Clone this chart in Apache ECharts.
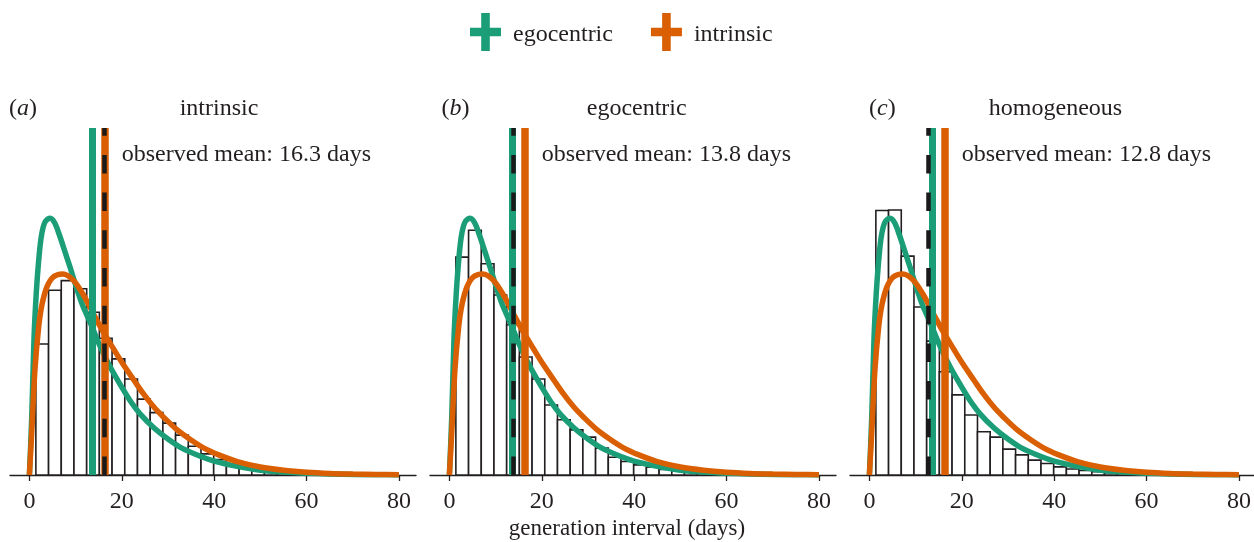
<!DOCTYPE html>
<html>
<head>
<meta charset="utf-8">
<script src="https://cdn.jsdelivr.net/npm/echarts@6/dist/echarts.min.js"></script>
<style>html,body{margin:0;padding:0;background:#fff}#c{width:1254px;height:542px}</style>
</head>
<body>
<div id="c"></div>
<script>
// ---- data ----
const xTicks = [0, 20, 40, 60, 80];
const panelTitles = ['intrinsic', 'egocentric', 'homogeneous'];
const panelLetters = ['a', 'b', 'c'];
const observedMeans = [16.3, 13.8, 12.8];
const egocentricMean = 13.6;
const intrinsicMean = 16.4;

const binEdges = [1.4, 4.15, 6.9, 9.65, 12.4, 15.15, 17.9, 20.65, 23.4, 26.15, 28.9,
  31.65, 34.4, 37.15, 39.9, 42.65, 45.4, 48.15, 50.9, 53.65, 56.4];
const histIntrinsic = [2.73, 3.85, 4.05, 3.88, 3.39, 2.85, 2.42, 2.00, 1.58, 1.30, 1.08,
  0.83, 0.60, 0.44, 0.32, 0.23, 0.17, 0.12, 0.088, 0.063];
const histEgocentric = [4.54, 5.10, 4.40, 3.75, 3.13, 2.46, 2.00, 1.46, 1.15, 0.94, 0.79,
  0.56, 0.37, 0.28, 0.21, 0.16, 0.115, 0.083, 0.063, 0.046];
const histHomogeneous = [5.51, 5.52, 4.56, 3.50, 2.79, 2.15, 1.67, 1.25, 0.90, 0.79, 0.54,
  0.42, 0.31, 0.24, 0.17, 0.125, 0.094, 0.069, 0.05, 0.035];

const egoDays = [0, 0.5, 1, 1.5, 2, 2.5, 3, 3.5, 4.5, 5.5, 6.5, 7.5, 8.8, 10, 11.5, 13.2,
  15, 17.5, 20, 22, 24, 27, 30, 33, 37, 40, 45, 50, 55, 60, 65, 70, 75, 80];
const egoDensity = [0, 1.19, 2.85, 3.81, 4.46, 4.92, 5.17, 5.29, 5.35, 5.25, 5.00, 4.71,
  4.33, 3.96, 3.54, 3.17, 2.75, 2.25, 1.83, 1.52, 1.27, 0.98, 0.75, 0.56, 0.39, 0.29,
  0.18, 0.10, 0.063, 0.038, 0.021, 0.010, 0.005, 0.002];
const intrDays = [0, 0.5, 1.2, 2, 2.7, 3.8, 5.2, 7.2, 9.5, 11.7, 13.9, 16, 18.2, 20.4,
  22.6, 24.7, 27, 29, 32, 35, 38, 41, 45, 50, 55, 60, 65, 70, 75, 80];
const intrDensity = [0, 0.88, 2.19, 3.08, 3.54, 3.92, 4.13, 4.19, 4.06, 3.75, 3.35, 2.98,
  2.63, 2.29, 1.98, 1.69, 1.41, 1.21, 0.94, 0.73, 0.55, 0.42, 0.28, 0.167, 0.10, 0.058,
  0.033, 0.019, 0.010, 0.006];

// ---- styling / layout ----
const GREEN = '#1b9e77', ORANGE = '#d95f02', INK = '#231f20';
const FONT = '"Liberation Serif", "Times New Roman", serif';
const hists = [histIntrinsic, histEgocentric, histHomogeneous];
const gridLeft = [10, 430, 850];
const titleCenters = [219, 636.7, 1055.5];
const letterLeft = [9, 441.5, 869];
const plus = 'path://M11.2,0H19.8V14.85H31V23.15H19.8V38H11.2V23.15H0V14.85H11.2Z';

const grids = [], xAxes = [], yAxes = [], series = [], graphics = [];
const egoPts = egoDays.map((d, i) => [d, egoDensity[i]]);
const intrPts = intrDays.map((d, i) => [d, intrDensity[i]]);

function vline(name, i, x, color, width, type, z) {
  return {
    name: name, type: 'line', xAxisIndex: i, yAxisIndex: i, data: [], silent: true,
    markLine: {
      silent: true, symbol: 'none', z: z, animation: false,
      label: {show: false}, emphasis: {disabled: true},
      lineStyle: {color: color, width: width, type: type, opacity: 1, cap: 'butt'},
      data: [{xAxis: x}]
    }
  };
}

for (let i = 0; i < 3; i++) {
  grids.push({left: gridLeft[i], top: 128, width: 406, height: 347, outerBoundsMode: 'none', containLabel: false});
  xAxes.push({
    type: 'value', gridIndex: i, min: -4.2, max: 83.7,
    axisLine: {show: true, onZero: false, lineStyle: {color: INK, width: 1.4}},
    axisTick: {show: true, customValues: xTicks, length: 6, lineStyle: {color: INK, width: 1.3}},
    axisLabel: {show: true, customValues: xTicks, fontSize: 24, fontFamily: FONT, color: INK, margin: 15},
    splitLine: {show: false}
  });
  yAxes.push({type: 'value', gridIndex: i, min: 0, max: 7.23, show: false});

  const bins = hists[i].map((v, j) => [binEdges[j], binEdges[j + 1], v]);
  series.push({
    type: 'custom', xAxisIndex: i, yAxisIndex: i, z: 1, silent: true,
    data: bins, encode: {x: [0, 1], y: 2},
    renderItem: function (params, api) {
      const p0 = api.coord([api.value(0), api.value(2)]);
      const p1 = api.coord([api.value(1), 0]);
      return {type: 'rect', shape: {x: p0[0], y: p0[1], width: p1[0] - p0[0], height: p1[1] - p0[1]},
        style: {fill: '#fff', stroke: INK, lineWidth: 1.6}};
    }
  });
  series.push({
    name: 'egocentric', type: 'line', xAxisIndex: i, yAxisIndex: i, z: 2, data: egoPts,
    smooth: 0.3, showSymbol: false, silent: true,
    color: GREEN, itemStyle: {color: GREEN}, lineStyle: {color: GREEN, width: 5.5}
  });
  series.push({
    name: 'intrinsic', type: 'line', xAxisIndex: i, yAxisIndex: i, z: 3, data: intrPts,
    smooth: 0.3, showSymbol: false, silent: true,
    color: ORANGE, itemStyle: {color: ORANGE}, lineStyle: {color: ORANGE, width: 5.5}
  });
  series.push(vline('egoMean' + i, i, egocentricMean, GREEN, 7, 'solid', 10));
  series.push(vline('intrMean' + i, i, intrinsicMean, ORANGE, 7.5, 'solid', 11));
  series.push(vline('obsMean' + i, i, observedMeans[i], '#1a1a1a', 4.5, [18.5, 19.2], 12));

  graphics.push({
    type: 'text', x: titleCenters[i], y: 108.5,
    style: {text: panelTitles[i], font: '24px ' + FONT, fill: INK, textAlign: 'center', textVerticalAlign: 'middle'}
  });
  graphics.push({
    type: 'text', x: gridLeft[i] + 111.7, y: 155,
    style: {text: 'observed mean: ' + observedMeans[i].toFixed(1) + ' days', font: '24px ' + FONT, fill: INK,
      textAlign: 'left', textVerticalAlign: 'middle'}
  });
  graphics.push({
    type: 'text', x: letterLeft[i], y: 108.5,
    style: {
      text: '{n|(}{i|' + panelLetters[i] + '}{n|)}', fill: INK, textAlign: 'left', textVerticalAlign: 'middle',
      rich: {
        n: {fontSize: 24, fontFamily: FONT, fill: INK, color: INK},
        i: {fontSize: 24, fontFamily: FONT, fontStyle: 'italic', fill: INK, color: INK}
      }
    }
  });
}

graphics.push({
  type: 'text', x: 627, y: 529,
  style: {text: 'generation interval (days)', font: '23px ' + FONT, fill: INK, textAlign: 'center', textVerticalAlign: 'middle'}
});

const chart = echarts.init(document.getElementById('c'), null, {renderer: 'canvas'});
chart.setOption({
  animation: false,
  backgroundColor: '#fff',
  legend: {
    data: [{name: 'egocentric', icon: plus}, {name: 'intrinsic', icon: plus}],
    left: 470, top: 13, padding: 0, itemWidth: 31, itemHeight: 38, itemGap: 38, selectedMode: false,
    itemStyle: {borderWidth: 0},
    lineStyle: {width: 0},
    formatter: '{t|{name}}',
    textStyle: {
      fontSize: 24, fontFamily: FONT, color: INK,
      rich: {t: {fontSize: 24, fontFamily: FONT, color: INK, padding: [6, 0, 0, 7]}}
    }
  },
  grid: grids, xAxis: xAxes, yAxis: yAxes, series: series, graphic: graphics
});
</script>
</body>
</html>
